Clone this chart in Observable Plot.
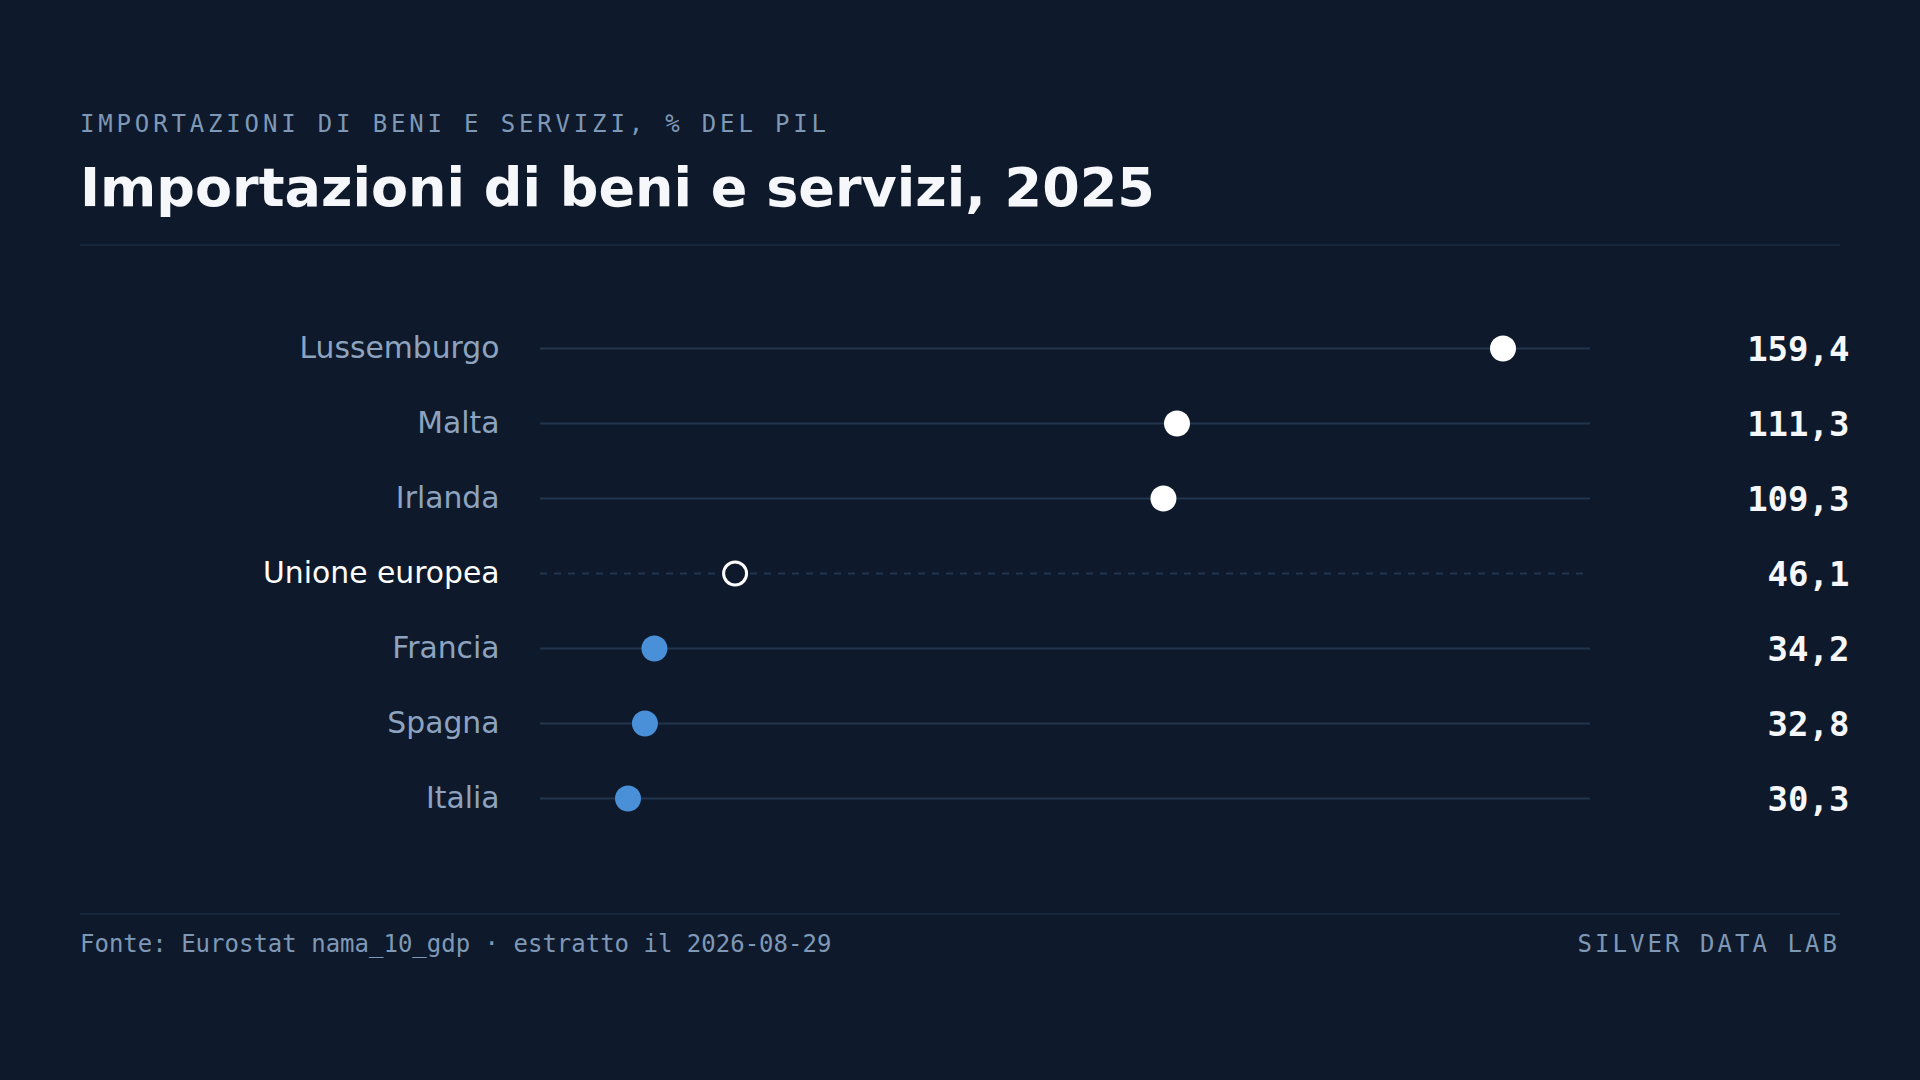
<!DOCTYPE html>
<html>
<head>
<meta charset="utf-8">
<script src="https://cdn.jsdelivr.net/npm/d3@7"></script>
<script src="https://cdn.jsdelivr.net/npm/@observablehq/plot@0.6"></script>
<style>
  html, body { margin: 0; padding: 0; background: #0e1a2b; }
  body { width: 1920px; height: 1080px; position: relative; overflow: hidden; font-family: "DejaVu Sans", sans-serif; }
  .eyebrow { position: absolute; left: 80px; top: 112px; font-family: "DejaVu Sans Mono", monospace; font-size: 24px; line-height: 24px; letter-spacing: 3.84px; color: #7f98b6; white-space: nowrap; }
  .title { position: absolute; left: 80px; top: 161px; font-size: 54px; line-height: 54px; font-weight: bold; color: #f5f7fa; white-space: nowrap; }
  .rule { position: absolute; left: 80px; width: 1760px; height: 2px; background: #17263a; }
  #chart { position: absolute; left: 80px; top: 310px; }
  .foot { position: absolute; top: 932px; font-family: "DejaVu Sans Mono", monospace; font-size: 24px; line-height: 24px; color: #7f98b6; white-space: nowrap; }
  .foot.left { left: 80px; }
  .foot.right { right: 80px; letter-spacing: 3.05px; }
</style>
</head>
<body>
<div class="eyebrow">IMPORTAZIONI DI BENI E SERVIZI, % DEL PIL</div>
<div class="title">Importazioni di beni e servizi, 2025</div>
<div class="rule" style="top:244px"></div>
<div id="chart"></div>
<div class="rule" style="top:913px"></div>
<div class="foot left">Fonte: Eurostat nama_10_gdp · estratto il 2026-08-29</div>
<div class="foot right">SILVER DATA LAB</div>
<script>
const countries = ["Lussemburgo", "Malta", "Irlanda", "Unione europea", "Francia", "Spagna", "Italia"];
const values = [159.4, 111.3, 109.3, 46.1, 34.2, 32.8, 30.3];
const valueLabels = ["159,4", "111,3", "109,3", "46,1", "34,2", "32,8", "30,3"];
const reference = "Unione europea";

const refValue = values[countries.indexOf(reference)];
const data = countries.map((c, i) => ({
  country: c,
  value: values[i],
  label: valueLabels[i],
  group: c === reference ? "ref" : (values[i] > refValue ? "above" : "below")
}));

const vmin = d3.min(values), vmax = d3.max(values);
const pad = (vmax - vmin) * 0.1;

const BG = "#0e1a2b";
const LINE = "#22354f";
const LABEL = "#8ea3bf";
const WHITE = "#ffffff";
const BLUE = "#4a90d9";

const chart = Plot.plot({
  width: 1780,
  height: 525,
  marginLeft: 460,
  marginRight: 270,
  marginTop: 0,
  marginBottom: 0,
  style: { background: "transparent", overflow: "visible" },
  x: { domain: [vmin - pad, vmax + pad], axis: null },
  y: { type: "point", domain: countries, padding: 0.5, axis: null },
  marks: [
    Plot.ruleY(data.filter(d => d.group !== "ref"), { y: "country", stroke: LINE, strokeWidth: 2 }),
    Plot.ruleY(data.filter(d => d.group === "ref"), { y: "country", stroke: LINE, strokeWidth: 2, strokeDasharray: "7,7" }),
    Plot.text(data, {
      y: "country", text: "country", frameAnchor: "left", textAnchor: "end", dx: -41,
      fontSize: 29.8, fontFamily: "DejaVu Sans",
      fill: d => d.group === "ref" ? WHITE : LABEL
    }),
    Plot.dot(data.filter(d => d.group !== "ref"), {
      x: "value", y: "country", r: 13, stroke: null,
      fill: d => d.group === "above" ? WHITE : BLUE
    }),
    Plot.dot(data.filter(d => d.group === "ref"), {
      x: "value", y: "country", r: 11.5, fill: BG, stroke: WHITE, strokeWidth: 3
    }),
    Plot.text(data, {
      y: "country", text: "label", frameAnchor: "right", textAnchor: "end", dx: 259, dy: 2,
      fontSize: 34, fontWeight: "bold", fontFamily: "DejaVu Sans Mono", fill: "#f5f7fa"
    })
  ]
});
document.getElementById("chart").appendChild(chart);
</script>
</body>
</html>
